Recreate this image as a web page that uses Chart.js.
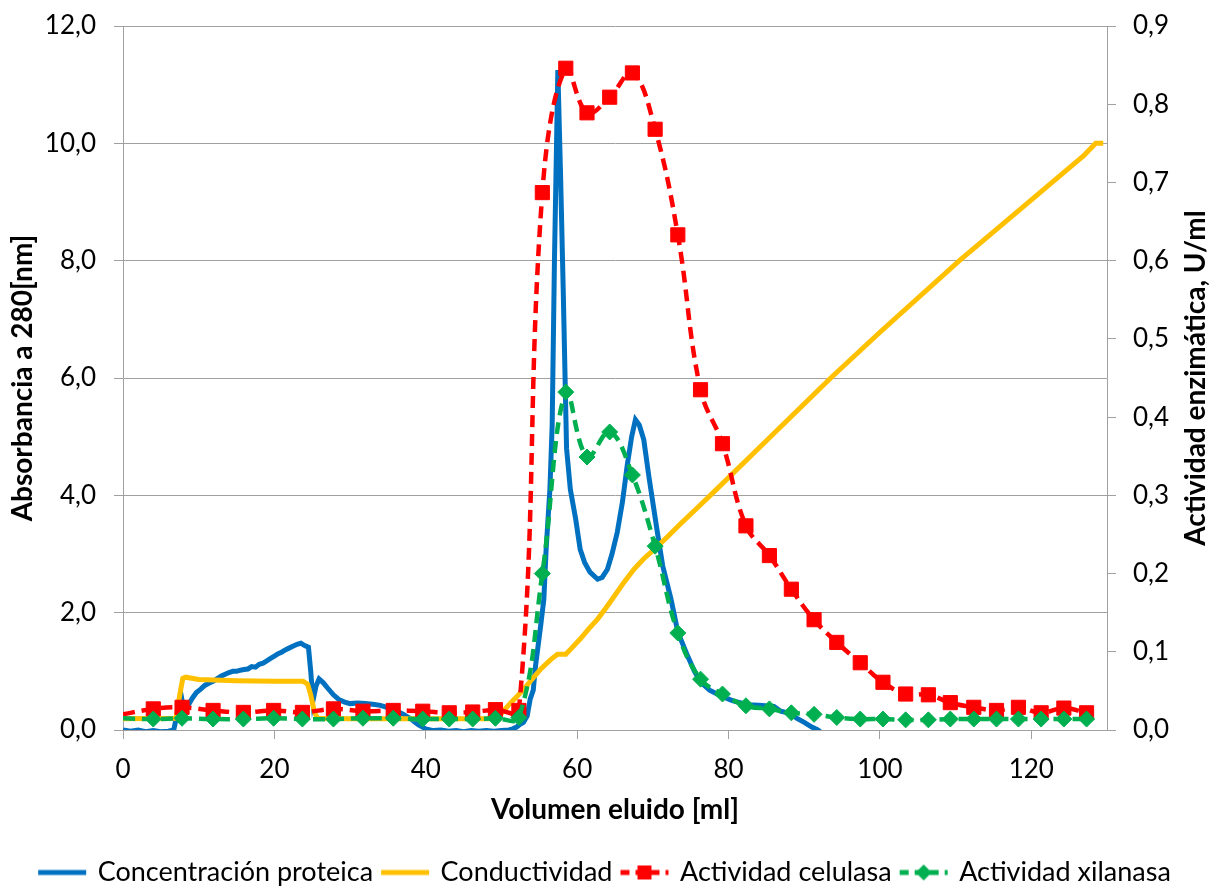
<!DOCTYPE html>
<html>
<head>
<meta charset="utf-8">
<script src="https://cdn.jsdelivr.net/npm/chart.js@4.4.1/dist/chart.umd.min.js"></script>
<style>
  html, body { margin: 0; padding: 0; background: #fff; }
  #wrap { width: 1211px; height: 886px; }
</style>
</head>
<body>
<div id="wrap"><canvas id="chart" width="1211" height="886"></canvas></div>
<script>
// Concentración proteica (Absorbancia 280 nm), eje izquierdo
const proteinaX = [0, 1, 2, 3, 4, 5, 6, 6.7, 7.2, 7.7, 8.1, 8.6, 9.2, 9.7, 10.3, 10.8, 11.4, 11.9, 12.5, 13,
  13.5, 14, 14.5, 15, 15.5, 16, 16.5, 17, 17.5, 18, 18.5, 19, 19.5, 20, 20.5, 21, 21.5, 22, 22.5, 23,
  23.5, 24, 24.5, 24.8, 25.1, 25.5, 25.9, 26.5, 27, 27.8, 28.5, 29.2, 30, 31, 32, 33, 34, 35, 36, 37,
  38, 39, 40, 41, 42, 43, 44, 45, 46, 47, 48, 49, 50, 51, 51.5, 52, 52.5, 52.9, 53.4, 53.8,
  54.2, 54.5, 55.15, 55.6, 55.9, 56.4, 56.7, 57, 57.45, 57.8, 58.15, 58.6, 59.1, 59.8, 60.4, 61, 61.7, 62.7, 63.3, 64,
  64.6, 65.3, 66, 66.6, 67.2, 67.7, 68.2, 68.8, 69.5, 70.6, 71.3, 72.4, 73.3, 74.6, 75.5, 76.3, 77.5, 79, 80.5, 82.5,
  84, 86, 86.9, 88.2, 89, 90, 91, 91.8, 92.3];
const proteinaY = [0, -0.02, 0, -0.03, -0.01, -0.03, -0.02, 0, 0.3, 0.58, 0.3, 0.42, 0.55, 0.64, 0.7, 0.76, 0.8, 0.83, 0.88, 0.92,
  0.95, 0.98, 1.0, 1.0, 1.02, 1.03, 1.04, 1.08, 1.07, 1.12, 1.14, 1.18, 1.22, 1.26, 1.3, 1.33, 1.37, 1.4, 1.43, 1.46,
  1.48, 1.44, 1.41, 1.0, 0.5, 0.75, 0.87, 0.8, 0.72, 0.6, 0.52, 0.48, 0.45, 0.46, 0.45, 0.44, 0.42, 0.38, 0.33, 0.27,
  0.19, 0.09, 0.02, -0.01, 0, -0.02, -0.01, -0.03, -0.01, -0.02, -0.01, -0.02, -0.01, 0, 0.02, 0.05, 0.1, 0.13, 0.24, 0.53,
  0.68, 1.09, 1.75, 2.23, 3.08, 4.1, 5.2, 8.0, 11.25, 9.5, 7.56, 4.8, 4.1, 3.6, 3.08, 2.85, 2.69, 2.57, 2.6, 2.74,
  3.0, 3.37, 3.9, 4.5, 5.0, 5.29, 5.2, 4.95, 4.3, 3.37, 2.8, 2.23, 1.67, 1.26, 1.0, 0.82, 0.68, 0.58, 0.5, 0.43,
  0.42, 0.4, 0.32, 0.28, 0.2, 0.13, 0.05, 0, -0.05];

// Conductividad (misma escala izquierda)
const conductividadX = [0, 7, 7.5, 7.9, 8.3, 10, 15, 20, 23.8, 24.4, 24.8, 25.3, 25.7, 30, 40, 49.5, 50.3, 51.5, 53, 54,
  55.2, 56.5, 57.4, 58.5, 59.3, 60.4, 61.5, 62.7, 63.8, 64.9, 66.2, 67.5, 68.8, 70.2, 71.9, 73.7, 76.3, 78, 85, 93.5,
  100, 110.5, 120.4, 127, 128.5, 129.5];
const conductividadY = [0.19, 0.2, 0.6, 0.88, 0.9, 0.86, 0.84, 0.83, 0.83, 0.78, 0.6, 0.3, 0.2, 0.19, 0.19, 0.19, 0.33, 0.5, 0.7, 0.86,
  1.04, 1.2, 1.29, 1.29, 1.4, 1.55, 1.72, 1.89, 2.08, 2.28, 2.52, 2.74, 2.92, 3.08, 3.29, 3.52, 3.84, 4.05, 4.93, 6.0,
  6.78, 8.0, 9.08, 9.8, 10.0, 10.0];

// Fracciones: actividad enzimática (U/ml), eje derecho
const fraccionX = [0, 4.0, 7.8, 11.9, 15.9, 19.9, 23.7, 27.8, 31.7, 35.7, 39.6, 43.1, 46.2, 49.2, 52.3, 55.4, 58.5, 61.3, 64.3, 67.3,
  70.3, 73.3, 76.3, 79.2, 82.3, 85.4, 88.3, 91.3, 94.3, 97.4, 100.4, 103.4, 106.4, 109.3, 112.4, 115.4, 118.3, 121.3, 124.3, 127.3];
const celulasa = [0.020, 0.027, 0.029, 0.025, 0.0225, 0.025, 0.0225, 0.027, 0.024, 0.025, 0.024, 0.022, 0.023, 0.026, 0.025, 0.687, 0.846, 0.789, 0.809, 0.840,
  0.768, 0.633, 0.435, 0.366, 0.261, 0.223, 0.180, 0.141, 0.112, 0.086, 0.061, 0.046, 0.045, 0.035, 0.029, 0.025, 0.029, 0.022, 0.028, 0.022];
const xilanasa = [0.015, 0.014, 0.015, 0.014, 0.014, 0.015, 0.014, 0.014, 0.015, 0.015, 0.014, 0.014, 0.014, 0.015, 0.016, 0.200, 0.432, 0.349, 0.381, 0.326,
  0.235, 0.124, 0.065, 0.046, 0.031, 0.027, 0.022, 0.020, 0.016, 0.014, 0.014, 0.013, 0.013, 0.014, 0.014, 0.014, 0.014, 0.014, 0.014, 0.014];

const xTicks = [0, 20, 40, 60, 80, 100, 120];
const yTicks = [0, 2, 4, 6, 8, 10, 12];
const y1Ticks = [0, 0.1, 0.2, 0.3, 0.4, 0.5, 0.6, 0.7, 0.8, 0.9];

const FONT = "Lato";
const AXIS_GREY = "#a0a0a0";

function toPoints(xs, ys) {
  return xs.map((x, i) => ({ x: x, y: ys[i] }));
}

function coma(v) {
  return v.toFixed(1).replace(".", ",");
}

// small canvases used as legend samples (line + marker)
function legendSample(color, dashed, marker) {
  const c = document.createElement("canvas");
  c.width = 52;
  c.height = 18;
  const g = c.getContext("2d");
  g.strokeStyle = color;
  g.fillStyle = color;
  g.lineWidth = 5;
  if (dashed) g.setLineDash([9, 6]);
  g.beginPath();
  g.moveTo(2, 9);
  g.lineTo(50, 9);
  g.stroke();
  if (marker === "rect") g.fillRect(19, 2, 14, 14);
  if (marker === "diamond") {
    g.beginPath();
    g.moveTo(26, 1);
    g.lineTo(34, 9);
    g.lineTo(26, 17);
    g.lineTo(18, 9);
    g.closePath();
    g.fill();
  }
  return c;
}

const samples = [
  legendSample("#0070C0", false, null),
  legendSample("#FFC000", false, null),
  legendSample("#FF0000", true, "rect"),
  legendSample("#00B050", true, "diamond"),
];

// the right title reads bottom-to-top, like the left one
const rightTitle = {
  id: "rightTitle",
  afterDraw(chart) {
    const ctx = chart.ctx;
    const area = chart.chartArea;
    ctx.save();
    ctx.translate(1196, (area.top + area.bottom) / 2);
    ctx.rotate(-Math.PI / 2);
    ctx.font = "bold 28px " + FONT;
    ctx.fillStyle = "#000";
    ctx.textAlign = "center";
    ctx.textBaseline = "middle";
    ctx.fillText("Actividad enzimática, U/ml", 0, 0);
    ctx.restore();
  },
};

function fixWidth(w) {
  return (scale) => {
    scale.width = w;
    scale.paddingTop = 0;
    scale.paddingBottom = 0;
  };
}

new Chart(document.getElementById("chart"), {
  type: "line",
  data: {
    datasets: [
      {
        label: "Concentración proteica",
        data: toPoints(proteinaX, proteinaY),
        yAxisID: "y",
        borderColor: "#0070C0",
        borderWidth: 5,
        pointRadius: 0,
        tension: 0,
        clip: 0,
        order: 4,
      },
      {
        label: "Conductividad",
        data: toPoints(conductividadX, conductividadY),
        yAxisID: "y",
        borderColor: "#FFC000",
        borderWidth: 5,
        pointRadius: 0,
        tension: 0,
        clip: 0,
        order: 3,
      },
      {
        label: "Actividad celulasa",
        data: toPoints(fraccionX, celulasa),
        yAxisID: "y1",
        borderColor: "#FF0000",
        backgroundColor: "#FF0000",
        borderWidth: 4.5,
        borderDash: [12, 7],
        pointStyle: "rect",
        pointRadius: (c) => (c.dataIndex === 0 ? 0 : 10),
        pointBorderWidth: 1,
        tension: 0.4,
        order: 2,
      },
      {
        label: "Actividad xilanasa",
        data: toPoints(fraccionX, xilanasa),
        yAxisID: "y1",
        borderColor: "#00B050",
        backgroundColor: "#00B050",
        borderWidth: 4.5,
        borderDash: [12, 7],
        pointStyle: "rectRot",
        pointRadius: (c) => (c.dataIndex === 0 ? 0 : 8),
        pointBorderWidth: 1,
        tension: 0.4,
        order: 1,
      },
    ],
  },
  options: {
    responsive: false,
    animation: false,
    layout: {
      padding: { top: 26, left: 0, right: 0, bottom: -10 },
    },
    scales: {
      x: {
        type: "linear",
        min: 0,
        max: 130,
        afterBuildTicks: (scale) => {
          scale.ticks = xTicks.map((v) => ({ value: v }));
        },
        afterFit: (scale) => {
          scale.height = 119;
        },
        ticks: {
          padding: 15,
          color: "#000",
          font: { family: FONT, size: 26 },
          maxRotation: 0,
        },
        grid: {
          drawOnChartArea: false,
          tickLength: 9,
          color: AXIS_GREY,
        },
        border: { color: AXIS_GREY },
        title: {
          display: true,
          text: "Volumen eluido [ml]",
          color: "#000",
          font: { family: FONT, size: 28, weight: "bold" },
          padding: { top: 0, bottom: 22 },
        },
      },
      y: {
        position: "left",
        min: 0,
        max: 12,
        afterBuildTicks: (scale) => {
          scale.ticks = yTicks.map((v) => ({ value: v }));
        },
        afterFit: fixWidth(123),
        ticks: {
          padding: 18,
          color: "#000",
          font: { family: FONT, size: 26 },
          callback: (v) => coma(v),
        },
        grid: {
          color: AXIS_GREY,
          tickLength: 9,
        },
        border: { color: AXIS_GREY },
        title: {
          display: true,
          text: "Absorbancia a 280[nm]",
          color: "#000",
          font: { family: FONT, size: 28, weight: "bold" },
          padding: { top: 6, bottom: 0 },
        },
      },
      y1: {
        position: "right",
        min: 0,
        max: 0.9,
        afterBuildTicks: (scale) => {
          scale.ticks = y1Ticks.map((v) => ({ value: v }));
        },
        afterFit: fixWidth(104),
        ticks: {
          padding: 17,
          color: "#000",
          font: { family: FONT, size: 26 },
          callback: (v) => coma(v),
        },
        grid: {
          drawOnChartArea: false,
          color: AXIS_GREY,
          tickLength: 9,
        },
        border: { color: AXIS_GREY },
      },
    },
    plugins: {
      legend: {
        position: "bottom",
        labels: {
          usePointStyle: true,
          pointStyleWidth: 44,
          padding: 10,
          color: "#000",
          font: { family: FONT, size: 27 },
          generateLabels: (chart) =>
            chart.data.datasets.map((ds, i) => ({
              text: ds.label,
              fillStyle: ds.borderColor,
              strokeStyle: ds.borderColor,
              lineWidth: 0,
              pointStyle: samples[i],
              hidden: false,
              datasetIndex: i,
              fontColor: "#000",
            })),
        },
      },
      tooltip: { enabled: false },
    },
  },
  plugins: [rightTitle],
});
</script>
</body>
</html>
